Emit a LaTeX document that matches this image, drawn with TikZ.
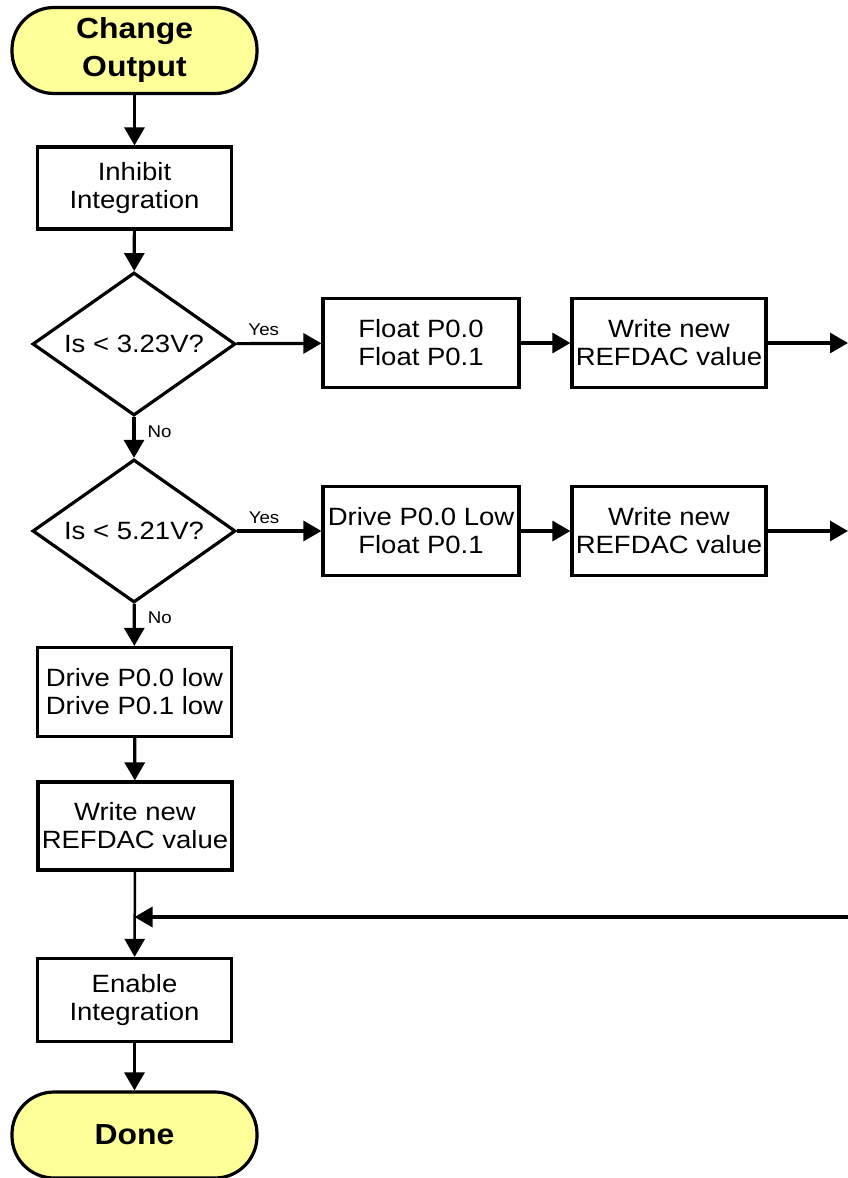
\documentclass[tikz,border=0pt]{standalone}
\usepackage{fontspec}
\setmainfont{Liberation Sans}[FakeStretch=1.1]
\usepackage{xcolor}
\usetikzlibrary{arrows.meta,shapes.geometric}
\definecolor{termyellow}{RGB}{255,255,153}

\begin{document}
\begin{tikzpicture}[x=1pt,y=-1pt,line width=3.2pt,
  >={Triangle[length=18pt,width=20pt]},
  term/.style={draw,fill=termyellow,rounded corners=42pt,minimum width=245pt,minimum height=86pt,align=center,inner sep=0pt,font=\fontsize{29}{38}\selectfont\bfseries},
  box/.style={draw,minimum width=194pt,minimum height=89pt,align=center,inner sep=0pt,font=\fontsize{25}{28}\selectfont},
  test/.style={draw,diamond,aspect=1.43,minimum width=203pt,minimum height=143pt,inner sep=0pt,font=\fontsize{25}{28}\selectfont},
  lbl/.style={font=\fontsize{17}{20}\selectfont,inner sep=0pt}]
\useasboundingbox (0,0) rectangle (848,1178);

\node[term] (start) at (134.5,50.5) {Change\\Output};
\node[box,minimum height=82pt] (inhibit) at (134.5,188) {Inhibit\\Integration};
\node[test] (lt323) at (134,344) {Is < 3.23V?};
\node[test] (lt521) at (134,531) {Is < 5.21V?};

% upper branch
\node[box,minimum width=196pt] (float) at (421,343) {Float P0.0\\Float P0.1};
\node[box] (writea) at (669,343) {Write new\\REFDAC value};
\coordinate (outa) at (848,343);

% middle branch
\node[box,minimum width=196pt] (drivelo) at (421,531) {Drive P0.0 Low\\Float P0.1};
\node[box] (writeb) at (669,531) {Write new\\REFDAC value};
\coordinate (outb) at (848,531);

% lower branch
\node[box] (drivebo) at (134.5,692) {Drive P0.0 low\\Drive P0.1 low};
\node[box,minimum height=88pt] (writec) at (135,826) {Write new\\REFDAC value};
\coordinate (back) at (848,917);
\coordinate (join) at (134.5,917);
\node[box,minimum height=83pt] (enable) at (134.5,1000) {Enable\\Integration};
\node[term] (done) at (134.5,1135) {Done};

\draw[->] (start) -- (inhibit);
\draw[->] (inhibit) -- (lt323);
\draw[->] (lt323) -- node[lbl,pos=0.32,above=6pt] {Yes} (float);
\draw[->] (float) -- (writea);
\draw[->] (writea) -- (outa);
\draw[->] (lt323) -- node[lbl,pos=0.36,anchor=west,xshift=12pt] {No} (lt521);
\draw[->] (lt521) -- node[lbl,pos=0.32,above=6pt] {Yes} (drivelo);
\draw[->] (drivelo) -- (writeb);
\draw[->] (writeb) -- (outb);
\draw[->] (lt521) -- node[lbl,pos=0.34,anchor=west,xshift=12pt] {No} (drivebo);
\draw[->] (drivebo) -- (writec);
\draw[->,line width=2.5pt] (writec) -- (enable);
\draw[->] (back) -- (join);
\draw[->] (enable) -- (done);
\end{tikzpicture}
\end{document}
